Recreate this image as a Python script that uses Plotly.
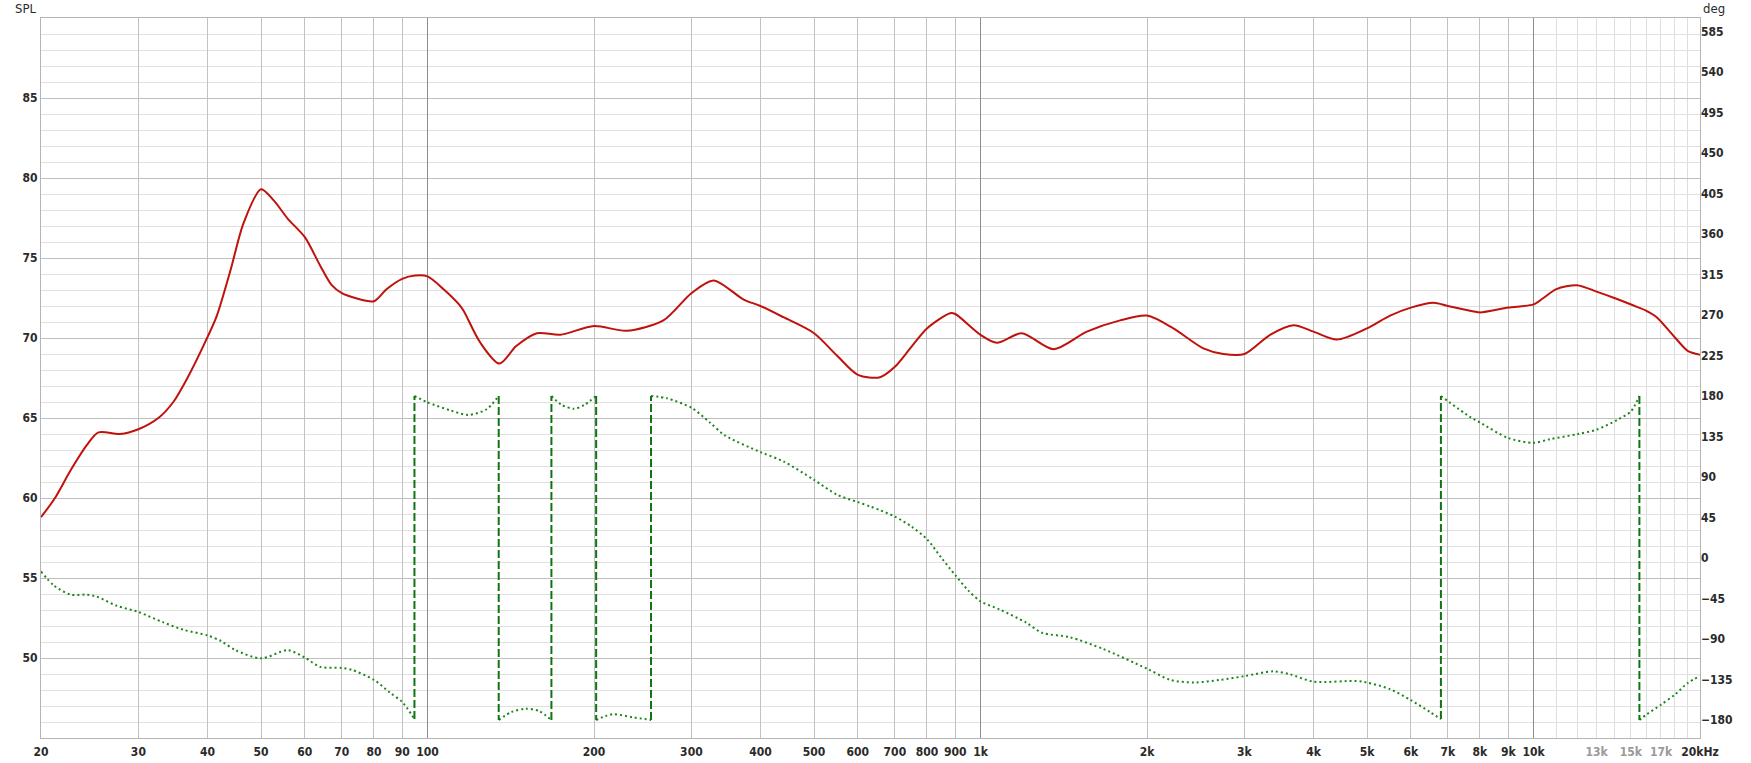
import math
import plotly.graph_objects as go

# ---------------- data ----------------
spl_freq = [20, 21.2, 22.6, 24.2, 25.4, 27.8, 30, 32.6, 34.7, 36.8, 40, 41.6, 44.0, 46.5, 50,
            52.7, 55.9, 60, 64, 67.1, 70, 74, 80, 84.3, 90, 95, 100, 106.9, 114, 116.2, 124.6,
            134.9, 144.7, 157.7, 173.8, 200, 229, 267, 300, 329, 373, 400, 440, 500, 550, 600,
            658, 700, 746, 800, 881, 900, 1000, 1070, 1187, 1355, 1557, 1788, 2000, 2232, 2529,
            2749, 3000, 3339, 3680, 4000, 4409, 5000, 5503, 6000, 6590, 7000, 7675, 8000, 9000,
            10000, 10420, 11000, 11976, 13000, 14000, 15500, 16000, 16700, 18000, 19000, 20000]
spl_db = [58.8, 60.0, 61.7, 63.3, 64.1, 64.0, 64.3, 65.0, 66.0, 67.5, 70.05, 71.4, 74.2, 77.2, 79.3,
          78.6, 77.45, 76.3, 74.5, 73.3, 72.8, 72.5, 72.3, 73.05, 73.7, 73.9, 73.85, 73.05, 72.1, 71.7, 69.7,
          68.4, 69.5, 70.3, 70.2, 70.75, 70.45, 71.1, 72.8, 73.6, 72.4, 72.0, 71.3, 70.3, 68.9, 67.7,
          67.55, 68.2, 69.35, 70.6, 71.55, 71.5, 70.2, 69.7, 70.3, 69.3, 70.4, 71.1, 71.4, 70.6, 69.35,
          69.0, 69.0, 70.2, 70.8, 70.4, 69.9, 70.6, 71.4, 71.9, 72.2, 72.0, 71.7, 71.6, 71.9,
          72.1, 72.5, 73.05, 73.3, 72.9, 72.5, 71.9, 71.7, 71.3, 70.05, 69.2, 68.95]

# phase, one list pair per wrapped segment
ph1_f = [20, 21.1, 22.6, 24.2, 25.2, 27.4, 30, 33.3, 36.2, 40, 42.3, 45.0, 50, 55.9, 60, 64, 70, 73, 80, 85.6, 90, 94.7]
ph1_deg = [-15, -30.5, -40.7, -40.7, -42.8, -53, -60, -71.6, -79.8, -86, -92.2, -102.5, -111.5, -102.5, -110.7, -121, -122.2, -124.3, -135.4, -149.8, -160, -179]
ph2_f = [94.7, 100, 110, 118.5, 127.7, 134.5]
ph2_deg = [180, 173, 164, 159, 165, 180]
ph3_f = [134.5, 142, 150.4, 159, 167.5]
ph3_deg = [-180, -171, -167.5, -170, -180]
ph4_f = [167.5, 175, 183.9, 192, 201.8]
ph4_deg = [180, 170, 165.8, 170, 180]
ph5_f = [201.8, 210, 217, 235, 253.6]
ph5_deg = [-180, -175.5, -173.5, -177, -180]
ph6_f = [253.6, 271, 300, 324, 345, 400, 440, 500, 550, 600, 632, 658, 700, 750, 800, 850, 900, 950,
         1000, 1083, 1208, 1292, 1450, 1668, 2000, 2203, 2440, 2716, 3000, 3386, 3628, 4000, 4790,
         5000, 5503, 6000, 6500, 6800]
ph6_deg = [180, 177.4, 167, 150.6, 136.2, 117.7, 107.4, 86.8, 70.4, 62.1, 57.2, 53.1, 46, 35, 21, 0, -19, -36,
           -48.1, -57.2, -71.6, -83.1, -88, -101.2, -123, -135.4, -138.3, -135.4, -131.3, -125.9, -129.2, -137.4, -136.6,
           -138.3, -145.7, -158, -171.2, -179]
ph7_f = [6800, 7675, 8000, 9000, 10000, 10700, 12000, 13000, 14200, 15000, 15540]
ph7_deg = [180, 156.8, 150.6, 133.3, 128, 132, 137.6, 142.6, 153.7, 162.9, 180]
ph8_f = [15540, 16000, 17000, 18000, 19000, 20000]
ph8_deg = [-180, -174, -163, -152, -139, -131]

# axis ticks / grid
x_label_vals = [20, 30, 40, 50, 60, 70, 80, 90, 100, 200, 300, 400, 500, 600, 700, 800, 900, 1000,
                2000, 3000, 4000, 5000, 6000, 7000, 8000, 9000, 10000, 13000, 15000, 17000, 20000]
x_label_text = ["20", "30", "40", "50", "60", "70", "80", "90", "100", "200", "300", "400", "500", "600",
                "700", "800", "900", "1k", "2k", "3k", "4k", "5k", "6k", "7k", "8k", "9k", "10k",
                "13k", "15k", "17k", "20kHz"]
x_faint_labels = ["13k", "15k", "17k"]
x_grid_vals = [30, 40, 50, 60, 70, 80, 90, 200, 300, 400, 500, 600, 700, 800, 900,
               2000, 3000, 4000, 5000, 6000, 7000, 8000, 9000]
x_decade_vals = [100, 1000, 10000]
x_fine_vals = [11000, 12000, 13000, 14000, 15000, 16000, 17000, 18000, 19000]
spl_ticks = [50, 55, 60, 65, 70, 75, 80, 85]
deg_ticks = list(range(-180, 586, 45))

# ---------------- styling ----------------
RED = "#c0120d"
GREEN = "#1c861c"
GREEN_D = "#127312"
FONT = "Liberation Sans Narrow, DejaVu Sans Condensed, sans-serif"
TXT = "#2a2a2a"

fig = go.Figure()

# helper (empty) traces so the overlay axes carrying the decade grid and the labels are drawn
fig.add_trace(go.Scatter(x=[x_decade_vals[0]], y=[None], xaxis="x2", mode="lines",
                         hoverinfo="skip", showlegend=False))
fig.add_trace(go.Scatter(x=[x_label_vals[0]], y=[None], xaxis="x3", mode="lines",
                         hoverinfo="skip", showlegend=False))

fig.add_trace(go.Scatter(x=spl_freq, y=spl_db, mode="lines",
                         line=dict(color=RED, width=2, shape="spline", smoothing=0.8),
                         hoverinfo="skip", showlegend=False))

segs = [(ph1_f, ph1_deg), (ph2_f, ph2_deg), (ph3_f, ph3_deg), (ph4_f, ph4_deg),
        (ph5_f, ph5_deg), (ph6_f, ph6_deg), (ph7_f, ph7_deg), (ph8_f, ph8_deg)]
px, py = [], []
for f, d in segs:
    px += f + [None]
    py += d + [None]
fig.add_trace(go.Scatter(x=px, y=py, mode="lines", yaxis="y2",
                         line=dict(color=GREEN, width=2, dash="2px,3px", shape="spline", smoothing=0.8),
                         hoverinfo="skip", showlegend=False))

wx, wy = [], []
for (f0, d0), (f1, d1) in zip(segs[:-1], segs[1:]):
    wx += [f0[-1], f1[0], None]
    wy += [d0[-1], d1[0], None]
fig.add_trace(go.Scatter(x=wx, y=wy, mode="lines", yaxis="y2",
                         line=dict(color=GREEN_D, width=2, dash="8px,3px"),
                         hoverinfo="skip", showlegend=False))

xr = [math.log10(20), math.log10(20000)]
tick_text = [f'<span style="color:#9a9a9a">{t}</span>' if t in x_faint_labels else t for t in x_label_text]
tfont = dict(family=FONT, size=12, color=TXT, weight="bold")

fig.update_layout(
    width=1751, height=763, autosize=False,
    margin=dict(l=41, r=51, t=18, b=25, pad=0, autoexpand=False),
    paper_bgcolor="white", plot_bgcolor="white",
    font=dict(family=FONT, size=12, color=TXT),
    xaxis=dict(type="log", range=xr, tickmode="array", tickvals=x_grid_vals, showticklabels=False,
               showgrid=True, gridcolor="#c2c2c2", gridwidth=1, zeroline=False, automargin=False,
               showline=True, mirror=True, linecolor="#b4b4b4", linewidth=1, ticks="",
               minor=dict(tickmode="array", tickvals=x_fine_vals, showgrid=True, gridcolor="#dedede", ticks="")),
    xaxis2=dict(type="log", range=xr, overlaying="x", anchor="y", tickmode="array", tickvals=x_decade_vals,
                showticklabels=False, showgrid=True, gridcolor="#8c8c8c", zeroline=False, ticks="",
                automargin=False),
    xaxis3=dict(type="log", range=xr, overlaying="x", anchor="y", side="bottom", tickmode="array",
                tickvals=x_label_vals, ticktext=tick_text, showgrid=False, zeroline=False, ticks="",
                tickangle=0, tickfont=tfont, ticklabelstandoff=5, automargin=False),
    yaxis=dict(range=[45, 90], tickmode="array", tickvals=spl_ticks, showgrid=True, gridcolor="#bebebe",
               zeroline=False, showline=True, mirror=True, linecolor="#b4b4b4", ticks="",
               tickfont=tfont, automargin=False,
               minor=dict(dtick=1, showgrid=True, gridcolor="#e0e0e0", ticks="")),
    yaxis2=dict(range=[-200, 600], overlaying="y", side="right", anchor="x", tickmode="array",
                tickvals=deg_ticks, showgrid=False, zeroline=False, ticks="",
                tickfont=tfont, automargin=False),
    annotations=[
        dict(text="SPL", xref="paper", yref="paper", x=0, y=1, xanchor="right", yanchor="middle",
             xshift=-3, yshift=10, showarrow=False, font=dict(family=FONT, size=13, color=TXT)),
        dict(text="deg", xref="paper", yref="paper", x=1, y=1, xanchor="left", yanchor="middle",
             xshift=1, yshift=10, showarrow=False, font=dict(family=FONT, size=13, color=TXT)),
    ],
)

fig.write_html("out.html", config={"displayModeBar": False},
               post_script="document.body.style.margin='0';")
